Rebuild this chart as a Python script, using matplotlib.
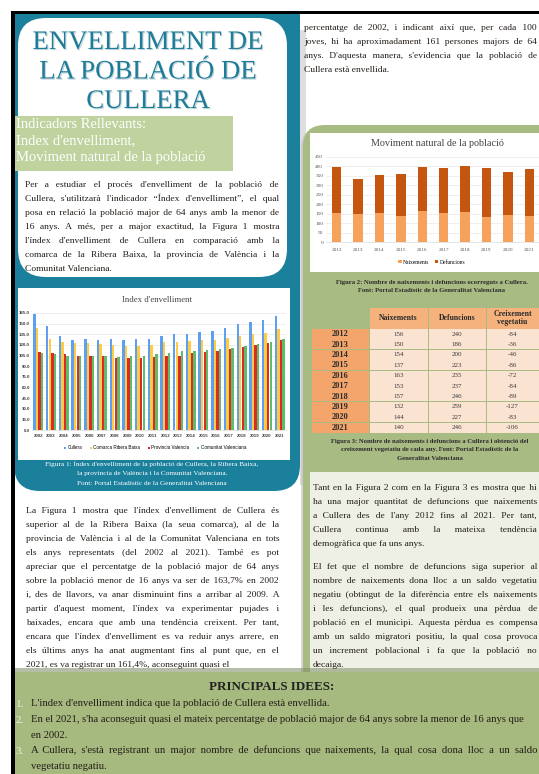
import numpy as np
import matplotlib
matplotlib.use('Agg')
from matplotlib import pyplot as plt
from matplotlib.patches import FancyBboxPatch
from matplotlib.font_manager import FontProperties, findfont, get_font
import matplotlib.patheffects as pe

W, H = 539, 774
SERIF = 'Liberation Serif'
SANS = 'Liberation Sans'

TEAL = '#1b809c'
GREEN = '#a8bb83'
GREEN_BOX = '#c0d29e'
BAND = '#a6b97e'
CREAM = '#eef0e5'
INK = '#231d18'

# --- data -------------------------------------------------------------
years_index = ['2002', '2003', '2004', '2005', '2006', '2007', '2008', '2009', '2010', '2011',
               '2012', '2013', '2014', '2015', '2016', '2017', '2018', '2019', '2020', '2021']
cullera = [163.7, 147, 133, 127, 128, 127, 128, 127, 128, 129,
           132, 136, 135, 138, 139, 144, 150, 153, 155, 161.4]
comarca = [144, 128, 124, 123, 123, 121, 120, 119, 119, 120,
           124, 124, 125, 127, 127, 130, 133, 135, 137, 142]
provincia = [110, 109, 107, 105, 105, 104, 102, 101, 101, 103,
             104, 105, 108, 110, 112, 114, 117, 120, 122, 127]
comunitat = [108, 107, 105, 104, 105, 105, 103, 104, 105, 107,
             109, 112, 112, 113, 114, 116, 119, 121, 124, 128]
series_names = ['Cullera', 'Comarca Ribera Baixa', 'Provincia Valencia', 'Comunitat Valenciana']
series_colors = ['#5f9ff0', '#ffcb45', '#dc2b27', '#5dbd6b']
index_ticks = [0, 15, 30, 45, 60, 75, 90, 105, 120, 135, 150, 165]

years_mov = ['2012', '2013', '2014', '2015', '2016', '2017', '2018', '2019', '2020', '2021']
naixements = [156, 150, 154, 137, 163, 153, 157, 132, 144, 140]
defuncions = [240, 186, 200, 223, 235, 237, 246, 259, 227, 246]
creixement = [-84, -36, -46, -86, -72, -84, -89, -127, -83, -106]
mov_ticks = [0, 50, 100, 150, 200, 250, 300, 350, 400, 450]

intro_lines = [
    "Per a estudiar el procés d'envelliment de la població de",
    "Cullera, s'utilitzarà l'indicador “Índex d'envelliment”, el qual",
    "posa en relació la població major de 64 anys amb la menor de",
    "16 anys. A més, per a major exactitud, la Figura 1 mostra",
    "l'índex d'envelliment de Cullera en comparació amb la",
    "comarca de la Ribera Baixa, la provincia de València i la",
    "Comunitat Valenciana.",
]
fig1_lines = [
    "La Figura 1 mostra que l'índex d'envelliment de Cullera és",
    "superior al de la Ribera Baixa (la seua comarca), al de la",
    "provincia de València i al de la Comunitat Valenciana en tots",
    "els anys representats (del 2002 al 2021). També es pot",
    "apreciar que el percentatge de la població major de 64 anys",
    "sobre la població menor de 16 anys va ser de 163,7% en 2002",
    "i, des de llavors, va anar disminuint fins a arribar al 2009. A",
    "partir d'aquest moment, l'índex va experimentar pujades i",
    "baixades, encara que amb una tendència creixent. Per tant,",
    "encara que l'índex d'envelliment es va reduir anys arrere, en",
    "els últims anys ha anat augmentant fins al punt que, en el",
    "2021, es va registrar un 161,4%, aconseguint quasi el",
]
right_top_lines = [
    "percentatge de 2002, i indicant així que, per cada 100",
    "joves, hi ha aproximadament 161 persones majors de 64",
    "anys. D'aquesta manera, s'evidencia que la població de",
    "Cullera està envellida.",
]
cream_lines_a = [
    "Tant en la Figura 2 com en la Figura 3 es mostra que hi",
    "ha una major quantitat de defuncions que naixements",
    "a Cullera des de l'any 2012 fins al 2021. Per tant,",
    "Cullera continua amb la mateixa tendència",
    "demogràfica que fa uns anys.",
]
cream_lines_b = [
    "El fet que el nombre de defuncions siga superior al",
    "nombre de naixements dona lloc a un saldo vegetatiu",
    "negatiu (obtingut de la diferència entre els naixements",
    "i les defuncions), el qual produeix una pèrdua de",
    "població en el municipi. Aquesta pèrdua es compensa",
    "amb un saldo migratori positiu, la qual cosa provoca",
    "un increment poblacional i fa que la població no",
    "decaiga.",
]
ideas = [
    ("1.", ["L'index d'envelliment indica que la població de Cullera està envellida."]),
    ("2.", ["En el 2021, s'ha aconseguit quasi el mateix percentatge de població major de 64 anys sobre la menor de 16 anys que",
            "en 2002."]),
    ("3.", ["A Cullera, s'està registrant un major nombre de defuncions que naixements, la qual cosa dona lloc a un saldo",
            "vegetatiu negatiu."]),
]

# --- canvas -------------------------------------------------------------
fig = plt.figure(figsize=(W / 100, H / 100), dpi=100)
fig.patch.set_facecolor('white')
bg = fig.add_axes([0, 0, 1, 1])
bg.set_xlim(0, W)
bg.set_ylim(H, 0)
bg.axis('off')
renderer = fig.canvas.get_renderer()

# a narrow space glyph for justification, if the serif font has one
_ft = get_font(findfont(FontProperties(family=SERIF)))
FINE = ' '
for c in ['\u200a', '\u2009', '\u2006', '\u2005']:
    if _ft.get_char_index(ord(c)):
        FINE = c
        break


def rect(x0, y0, x1, y1, color, r=0, z=1, **kw):
    style = 'round,pad=0,rounding_size=%g' % r if r else 'square,pad=0'
    bg.add_patch(FancyBboxPatch((x0, y0), x1 - x0, y1 - y0, boxstyle=style,
                                fc=color, ec='none', zorder=z, **kw))


def width_of(s, size, weight='normal', family=SERIF):
    fp = FontProperties(family=family, size=size, weight=weight)
    return renderer.get_text_width_height_descent(s, fp, ismath=False)[0]


def justify(line, target, size):
    words = line.split()
    gaps = len(words) - 1
    if gaps < 1:
        return line
    unit = width_of('a' + FINE + 'a', size) - width_of('aa', size)
    if unit < 0.3:
        unit = width_of('a a', size) - width_of('aa', size)
        fill = ' '
    else:
        fill = FINE
    k = max(0, int(round((target - width_of(line, size)) / unit)))
    out = words[0]
    for g in range(gaps):
        n = k // gaps + ((g + 1) * (k % gaps)) // gaps - (g * (k % gaps)) // gaps
        out += ' ' + fill * n + words[g + 1]
    return out


def para(lines, x0, x1, y0, step, size=6.8, color=INK, justify_last=False):
    for i, line in enumerate(lines):
        last = (i == len(lines) - 1) and not justify_last
        s = line if last else justify(line, x1 - x0, size)
        bg.text(x0, y0 + i * step, s, family=SERIF, size=size, color=color,
                ha='left', va='baseline', zorder=6)


# background blocks
rect(14, 14, 300, 491, TEAL, r=26, z=1)
rect(14, 14, 300, 60, TEAL, z=1)
rect(300, 30, 306, 485, '#c9c9c9', z=0.9, alpha=0.6)
rect(18, 18, 287, 277, 'white', r=28, z=2)
rect(18, 288, 290, 460, 'white', z=2)

# right green panel
rect(301, 127, 566, 690, '#bdbdbd', r=22, z=1.5, alpha=0.6)
rect(303, 125, 566, 688, GREEN, r=22, z=1.6)
rect(310, 133, 560, 272, 'white', z=2)
rect(310, 472, 560, 683, CREAM, z=2)

# bottom band
rect(14, 668, 539, 676, '#7d8a62', z=2.5, alpha=0.55)
rect(14, 672, 539, 774, BAND, z=3)

# black frame
rect(11, 11, 539, 14, 'black', z=8)
rect(11, 11, 14.5, 774, 'black', z=8)

# title
for i, t in enumerate(['ENVELLIMENT DE', 'LA POBLACIÓ DE', 'CULLERA']):
    bg.text(148, 49 + i * 29.5, t, family=SERIF, size=19.3, color='#1f7c98',
            ha='center', va='baseline', zorder=6,
            path_effects=[pe.withSimplePatchShadow(offset=(0.8, -0.8),
                                                   shadow_rgbFace='#9ab8c2', alpha=0.6)])

rect(14, 116, 233, 171, GREEN_BOX, z=4)
for i, t in enumerate(['Indicadors Rellevants:', "Index d'envelliment,",
                       'Moviment natural de la població']):
    bg.text(16, 128 + i * 16.5, t, family=SERIF, size=10.5, color='white',
            ha='left', va='baseline', zorder=6)

para(intro_lines, 25, 279, 187, 14)
para(fig1_lines, 26, 279, 513, 14)
para(right_top_lines, 304, 537, 30, 14)
para(cream_lines_a, 313, 537, 490, 14)
para(cream_lines_b, 313, 537, 569, 14)

# captions
for i, t in enumerate(["Figura 1: Índex d'envelliment de la població de Cullera, la Ribera Baixa,",
                       "la provincia de València i la Comunitat Valenciana.",
                       "Font: Portal Estadístic de la Generalitat Valenciana"]):
    bg.text(152, 466 + i * 9.5, t, family=SERIF, size=5.2, color='white',
            ha='center', va='baseline', zorder=6)
for i, t in enumerate(["Figura 2: Nombre de naixements i defuncions ocorreguts a Cullera.",
                       "Font: Portal Estadístic de la Generalitat Valenciana"]):
    bg.text(432, 284 + i * 8.5, t, family=SERIF, size=4.8, color='#2b2b2b',
            weight='bold', ha='center', va='baseline', zorder=6)
for i, t in enumerate(["Figura 3: Nombre de naixements i defuncions a Cullera i obtenció del",
                       "creixement vegetatiu de cada any. Font: Portal Estadístic de la",
                       "Generalitat Valenciana"]):
    bg.text(430, 443 + i * 8.3, t, family=SERIF, size=4.8, color='#2b2b2b',
            weight='bold', ha='center', va='baseline', zorder=6)

# table
cols = [312, 369, 428, 486, 539]
head_top, head_bot, row_h = 308, 329, 10.4
head_col = '#f6b27d'
year_col = '#f4a56c'
cell_col = '#fbe3d2'
for j, t in enumerate(['Naixements', 'Defuncions', 'Creixement\nvegetatiu']):
    rect(cols[j + 1] + 0.5, head_top, cols[j + 2] - 0.5, head_bot - 0.5, head_col, z=4)
    bg.text((cols[j + 1] + cols[j + 2]) / 2, (head_top + head_bot) / 2, t,
            family=SERIF, size=5.6, weight='bold', color='#2b2b2b',
            ha='center', va='center', linespacing=1.0, zorder=6)
for i, yr in enumerate(years_mov):
    y0 = head_bot + i * row_h
    rect(cols[0], y0, cols[1] - 0.5, y0 + row_h - 0.5, year_col, z=4)
    bg.text((cols[0] + cols[1]) / 2, y0 + row_h / 2, yr, family=SERIF, size=6,
            weight='bold', color='#2b2b2b', ha='center', va='center', zorder=6)
    for j, v in enumerate([naixements[i], defuncions[i], creixement[i]]):
        rect(cols[j + 1] + 0.5, y0, cols[j + 2] - 0.5, y0 + row_h - 0.5, cell_col, z=4)
        bg.text((cols[j + 1] + cols[j + 2]) / 2, y0 + row_h / 2, str(v), family=SERIF,
                size=5, color='#3a3a3a', ha='center', va='center', zorder=6)

# principals idees
bg.text(272, 690, 'PRINCIPALS IDEES:', family=SERIF, size=9.4, weight='bold',
        color='#222222', ha='center', va='baseline', zorder=6)
line_y = 706
for num, lines in ideas:
    bg.text(16, line_y + 1, num, family=SERIF, size=8, color='#eef1e2',
            ha='left', va='baseline', zorder=6)
    for k, t in enumerate(lines):
        if num == '3.' and k == 0:
            para([t], 31, 537, line_y, 0, size=7.7, justify_last=True)
        else:
            bg.text(31, line_y, t, family=SERIF, size=7.7, color=INK,
                    ha='left', va='baseline', zorder=6)
        line_y += 15.8

# --- chart 1: index d'envelliment ------------------------------------------
ax1 = fig.add_axes([32 / W, 1 - 430 / H, 254 / W, 117 / H])
ax1.patch.set_alpha(0)
x = np.arange(len(years_index))
for k, (vals, col, name) in enumerate(zip([cullera, comarca, provincia, comunitat],
                                         series_colors, series_names)):
    ax1.bar(x + (k - 1.5) * 0.2, vals, width=0.19, color=col, label=name, zorder=3)
ax1.set_xlim(-0.5, len(years_index) - 0.5)
ax1.set_ylim(0, 165)
ax1.set_yticks(index_ticks)
ax1.set_yticklabels(['%.1f' % v for v in index_ticks])
ax1.set_xticks(x)
ax1.set_xticklabels(years_index)
ax1.tick_params(length=0, labelsize=3.2, colors='#404040', pad=1.5)
ax1.tick_params(axis='x', pad=3)
for lab in ax1.get_xticklabels() + ax1.get_yticklabels():
    lab.set_family(SANS)
    lab.set_weight('bold')
ax1.grid(axis='y', color='#e3e3e3', lw=0.4, zorder=0)
for s in ax1.spines.values():
    s.set_visible(False)
ax1.spines['bottom'].set_visible(True)
ax1.spines['bottom'].set_color('#d0d0d0')
ax1.spines['bottom'].set_linewidth(0.4)
ax1.legend(loc='center', bbox_to_anchor=(155 / W, 1 - 448 / H), bbox_transform=fig.transFigure,
           ncol=4, frameon=False, prop={'family': SANS, 'size': 3.3},
           handlelength=0.5, handleheight=0.5, handletextpad=0.3, columnspacing=1.6)
fig.text(157 / W, 1 - 300 / H, "Index d'envelliment", family=SERIF, size=6.3,
         color='#444444', ha='center', va='center')

# --- chart 2: moviment natural ------------------------------------------------
ax2 = fig.add_axes([326 / W, 1 - 242 / H, 214 / W, 85 / H])
ax2.patch.set_alpha(0)
x2 = np.arange(len(years_mov))
ax2.bar(x2, naixements, width=0.44, color='#f6a15c', label='Naixements', zorder=3)
ax2.bar(x2, defuncions, width=0.44, bottom=naixements, color='#c4560f',
        label='Defuncions', zorder=3)
ax2.set_xlim(-0.5, len(years_mov) - 0.5)
ax2.set_ylim(0, 450)
ax2.set_yticks(mov_ticks)
ax2.set_xticks(x2)
ax2.set_xticklabels(years_mov)
ax2.tick_params(length=0, labelsize=3.8, colors='#555555', pad=2)
ax2.tick_params(axis='x', pad=4)
for lab in ax2.get_xticklabels() + ax2.get_yticklabels():
    lab.set_family(SERIF)
ax2.grid(axis='y', color='#e3e3e3', lw=0.4, zorder=0)
for s in ax2.spines.values():
    s.set_visible(False)
ax2.spines['bottom'].set_visible(True)
ax2.spines['bottom'].set_color('#d0d0d0')
ax2.spines['bottom'].set_linewidth(0.4)
ax2.legend(loc='center', bbox_to_anchor=(432 / W, 1 - 262 / H), bbox_transform=fig.transFigure,
           ncol=2, frameon=False, prop={'family': SERIF, 'size': 4},
           handlelength=0.6, handleheight=0.6, handletextpad=0.3, columnspacing=1.0)
fig.text(437 / W, 1 - 144 / H, 'Moviment natural de la població', family=SERIF, size=7.3,
         color='#444444', ha='center', va='center')

fig.savefig('out.png', dpi=100)
